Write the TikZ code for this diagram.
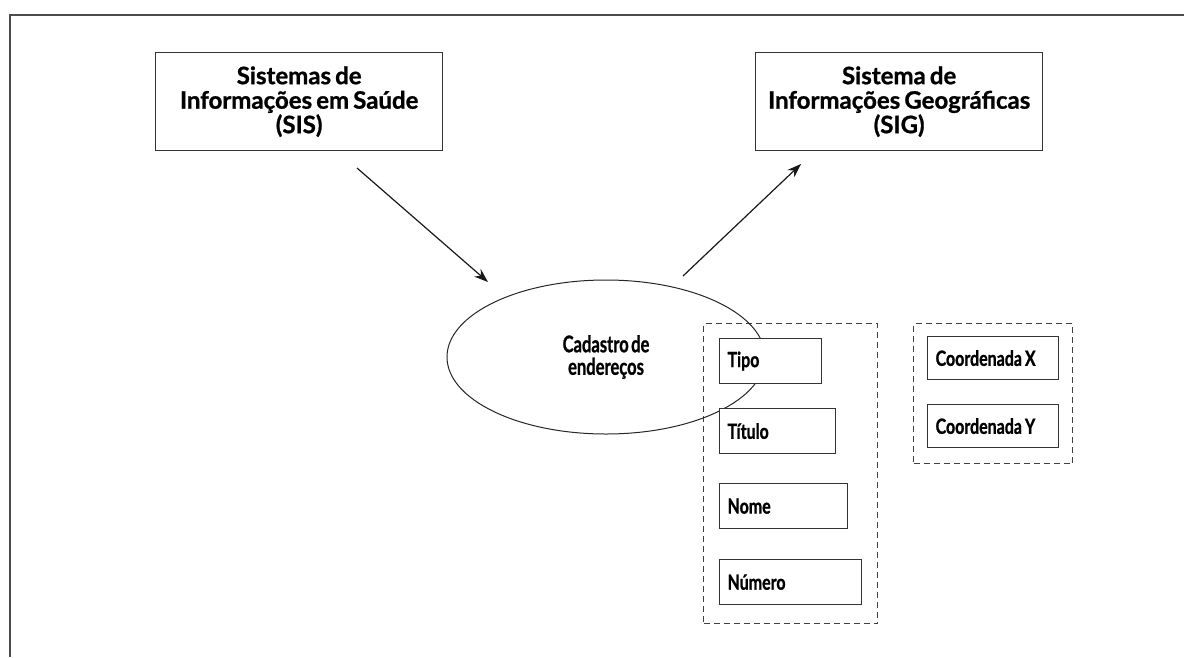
\documentclass[tikz,border=0pt]{standalone}
\usepackage{fontspec}
\setmainfont{Lato}[WordSpace=0.7, BoldFeatures={FakeBold=1}]
\newfontfamily\titlefnt{Lato}[WordSpace=0.7, BoldFeatures={FakeBold=1}]
\newfontfamily\ovalfnt{Lato}[FakeStretch=0.72, WordSpace=0.6, BoldFeatures={FakeBold=1}]
\newfontfamily\boxfnt{Lato}[FakeStretch=0.76, WordSpace=0.5, BoldFeatures={FakeBold=1}]
\usetikzlibrary{shapes.geometric,arrows.meta}
\begin{document}
\begin{tikzpicture}[x=1pt,y=-1pt,
  bigbox/.style={draw=black!80, line width=1.3pt, minimum width=287pt, minimum height=98pt, align=center, anchor=north west, inner sep=0pt, font=\titlefnt\fontsize{24}{24.5}\selectfont\bfseries},
  smallbox/.style={draw=black!80, line width=1.2pt, fill=white, minimum height=45pt, inner xsep=8pt, align=left, anchor=north west, font=\boxfnt\fontsize{21}{22}\selectfont\bfseries},
  groupbox/.style={draw=black!75, line width=1.2pt, dash pattern=on 6pt off 4pt},
  oval/.style={ellipse, draw=black!85, line width=1pt, align=center, inner sep=0pt, font=\ovalfnt\fontsize{23}{22.5}\selectfont\bfseries},
  conn/.style={line width=1.2pt, draw=black!90, -{Stealth[length=14pt,width=10pt]}}
]
\useasboundingbox (0,0) rectangle (1184,657);
\draw[line width=2pt, black!70] (10,657) -- (10,15) -- (1184,15);

\node[bigbox] (sis) at (155,52) {Sistemas de\\Informações em Saúde\\(SIS)};
\node[bigbox] (sig) at (755,52) {Sistema de\\Informações Geográficas\\(SIG)};

\node[groupbox, minimum width=174pt, minimum height=300pt, anchor=north west] (g1) at (703,323) {};
\node[groupbox, minimum width=159pt, minimum height=140pt, anchor=north west] (g2) at (913,323) {};

\node[oval, minimum width=318pt, minimum height=154pt] (cad) at (606,357) {Cadastro de\\endereços};

\node[smallbox, text width=86pt] (tipo) at (719,338) {Tipo};
\node[smallbox, text width=100pt] (titulo) at (719,408) {Título};
\node[smallbox, text width=112pt] (nome) at (719,483) {Nome};
\node[smallbox, text width=126pt] (numero) at (719,559) {Número};

\node[smallbox, text width=115pt, minimum height=43pt] (cx) at (927,336) {\mbox{Coordenada\hspace{3pt}X}};
\node[smallbox, text width=115pt, minimum height=43pt] (cy) at (927,404) {\mbox{Coordenada\hspace{3pt}Y}};

\coordinate (a1s) at (357,168);
\coordinate (a1e) at (488,282);
\coordinate (a2s) at (683,276);
\coordinate (a2e) at (801,164);
\draw[conn] (a1s) -- (a1e);
\draw[conn] (a2s) -- (a2e);
\end{tikzpicture}
\end{document}
